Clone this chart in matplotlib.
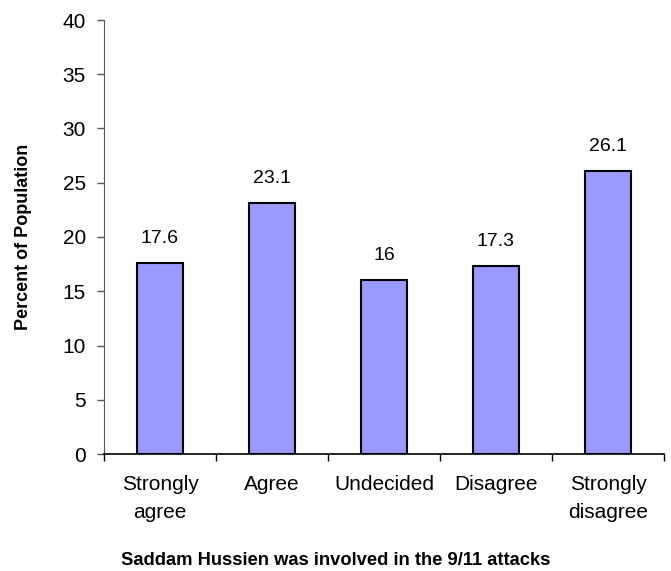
import matplotlib
matplotlib.use("Agg")
import matplotlib.pyplot as plt

categories = ["Strongly\nagree", "Agree", "Undecided", "Disagree", "Strongly\ndisagree"]
percent = [17.6, 23.1, 16, 17.3, 26.1]
value_labels = ["17.6", "23.1", "16", "17.3", "26.1"]
y_ticks = [0, 5, 10, 15, 20, 25, 30, 35, 40]

plt.rcParams['font.family'] = ['Liberation Sans', 'DejaVu Sans']

fig = plt.figure(figsize=(6.71, 5.71), dpi=100)
ax = fig.add_axes([104 / 671, 117 / 571, 560 / 671, 434 / 571])

pos = list(range(len(categories)))
ax.bar(pos, percent, width=0.41, color='#9999FF', edgecolor='black', linewidth=1.5)

for x, v, lab in zip(pos, percent, value_labels):
    ax.annotate(lab, (x, v), xytext=(0, 20), textcoords='offset pixels',
                ha='center', va='baseline', fontsize=14)

ax.set_xlim(-0.5, len(categories) - 0.5)
ax.set_ylim(0, 40)
ax.set_yticks(y_ticks)
ax.tick_params(axis='y', labelsize=15, length=5, width=1, color='#555555', pad=8)

# category boundaries get tick marks, labels sit in the middle
ax.set_xticks([i - 0.5 for i in range(len(categories) + 1)])
ax.set_xticklabels([])
ax.set_xticks(pos, minor=True)
ax.set_xticklabels(categories, minor=True, fontsize=15, linespacing=1.6)
ax.tick_params(axis='x', which='major', length=5, width=1)
ax.tick_params(axis='x', which='minor', length=0, pad=15)

for s in ['top', 'right']:
    ax.spines[s].set_visible(False)
ax.spines['left'].set_color('#555555')
ax.spines['bottom'].set_linewidth(1.2)

fig.text(24 / 671, (571 - 237) / 571, "Percent of Population", rotation=90,
         ha='center', va='center', fontsize=13, fontweight='bold')
fig.text(0.5, 6 / 571, "Saddam Hussien was involved in the 9/11 attacks",
         ha='center', va='baseline', fontsize=13.2, fontweight='bold')

fig.savefig("out.png", dpi=100)
